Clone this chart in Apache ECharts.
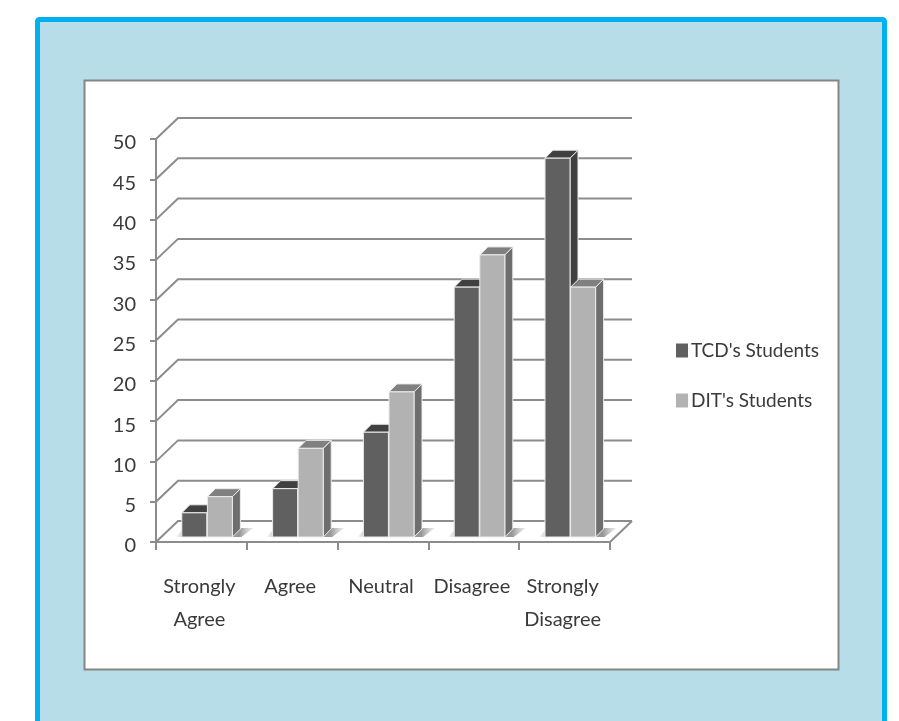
<!DOCTYPE html>
<html>
<head>
<meta charset="utf-8">
<style>
  html, body { margin: 0; padding: 0; background: #fff; }
  #chart { width: 899px; height: 721px; }
</style>
<script src="https://cdn.jsdelivr.net/npm/echarts@6/dist/echarts.min.js"></script>
</head>
<body>
<div id="chart"></div>
<script>
// Survey responses by student group
const categories = ['Strongly\nAgree', 'Agree', 'Neutral', 'Disagree', 'Strongly\nDisagree'];
const tcdStudents = [3, 6, 13, 31, 47];
const ditStudents = [5, 11, 18, 35, 31];
const yTicks = [0, 5, 10, 15, 20, 25, 30, 35, 40, 45, 50];

const FONT = 'Lato, "Liberation Sans", sans-serif';
const FONT_SIZE = 20;
const TEXT = '#3a3a3a';
const LINE = '#8c8c8c';

// Projection of the chart's depth axis onto the page
const WALL_DX = 22, WALL_DY = -21;
const BAR_SHIFT_X = 6, BAR_SHIFT_Y = -5;
const BAR_DEPTH_X = 8, BAR_DEPTH_Y = -8;
const BAR_WIDTH = 25;

const polygon = (points, fill) => ({
  type: 'polygon',
  shape: { points },
  style: { fill, stroke: '#ececec', lineWidth: 1 }
});

// Back wall gridlines, floor outline
function renderWall(params, api) {
  const cs = params.coordSys;
  const y = api.coord([0, api.value(0)])[1];
  const x0 = cs.x, x1 = cs.x + cs.width;
  const children = [{
    type: 'polyline',
    shape: { points: [[x0, y], [x0 + WALL_DX, y + WALL_DY], [x1 + WALL_DX, y + WALL_DY]] },
    style: { fill: 'none', stroke: LINE, lineWidth: 2 }
  }];
  if (api.value(0) === 0) {
    children.push({
      type: 'line',
      shape: { x1: x1, y1: y, x2: x1 + WALL_DX, y2: y + WALL_DY },
      style: { stroke: LINE, lineWidth: 2 }
    });
  }
  return { type: 'group', children };
}

// Soft shadow on the floor beneath each pair of bars
function renderShadow(params, api) {
  const base = api.coord([api.value(0), 0]);
  const cx = base[0] + BAR_SHIFT_X;
  const y = base[1] + BAR_SHIFT_Y;
  const l = cx - BAR_WIDTH - 7, r = cx + BAR_WIDTH + 4;
  return {
    type: 'polygon',
    shape: { points: [[l, y], [l + 9, y - 9], [r + 17, y - 9], [r + 5, y]] },
    style: {
      fill: {
        type: 'linear', x: 0, y: 0, x2: 1, y2: 0,
        colorStops: [
          { offset: 0, color: 'rgba(170,170,170,0)' },
          { offset: 0.12, color: 'rgba(170,170,170,0.7)' },
          { offset: 0.82, color: 'rgba(150,150,150,1)' },
          { offset: 1, color: 'rgba(190,190,190,0.25)' }
        ]
      }
    }
  };
}

// A bar with front, top and side faces; slot -1 sits left of the band centre, slot 0 right
function makeBarRenderer(slot, topColor, sideColor) {
  return function (params, api) {
    const top = api.coord([api.value(0), api.value(1)]);
    const base = api.coord([api.value(0), 0]);
    const x = top[0] + BAR_SHIFT_X + slot * (BAR_WIDTH + 0.6);
    const yT = top[1] + BAR_SHIFT_Y;
    const yB = base[1] + BAR_SHIFT_Y;
    const xR = x + BAR_WIDTH;
    const dx = BAR_DEPTH_X, dy = BAR_DEPTH_Y;
    return {
      type: 'group',
      children: [
        polygon([[xR, yT], [xR + dx, yT + dy], [xR + dx, yB + dy], [xR, yB]], sideColor),
        polygon([[x, yT], [x + dx, yT + dy], [xR + dx, yT + dy], [xR, yT]], topColor),
        polygon([[x, yT], [xR, yT], [xR, yB], [x, yB]], api.visual('color'))
      ]
    };
  };
}

const chart = echarts.init(document.getElementById('chart'), null, { renderer: 'canvas' });

chart.setOption({
  animation: false,
  backgroundColor: '#ffffff',
  textStyle: { fontFamily: FONT },
  // Framed panel behind the chart
  graphic: [
    {
      type: 'rect', z: -10, silent: true,
      shape: { x: 37.5, y: 19.5, width: 847, height: 720, r: 2 },
      style: { fill: '#b7dde8', stroke: '#00b0f0', lineWidth: 5 }
    },
    {
      type: 'rect', z: -9, silent: true,
      shape: { x: 84.5, y: 80.5, width: 754, height: 589 },
      style: { fill: '#ffffff', stroke: '#868686', lineWidth: 2 }
    }
  ],
  grid: { left: 156, top: 139, width: 454, height: 403, containLabel: false },
  xAxis: {
    type: 'category',
    data: categories,
    axisLine: { lineStyle: { color: LINE, width: 2 } },
    axisTick: { show: true, alignWithLabel: false, length: 8, lineStyle: { color: LINE, width: 2 } },
    axisLabel: {
      interval: 0, color: TEXT, fontSize: FONT_SIZE, fontFamily: FONT,
      lineHeight: 33, margin: 28, padding: [0, 4, 0, 0]
    },
    splitLine: { show: false }
  },
  yAxis: {
    type: 'value',
    min: 0, max: 50, interval: 5,
    axisLine: { show: true, lineStyle: { color: LINE, width: 2 } },
    axisTick: { show: true, length: 6, lineStyle: { color: LINE, width: 2 } },
    axisLabel: {
      color: TEXT, fontSize: FONT_SIZE, fontFamily: FONT, margin: 20,
      verticalAlign: 'top', lineHeight: 8
    },
    splitLine: { show: false }
  },
  legend: {
    data: ["TCD's Students", "DIT's Students"],
    orient: 'vertical',
    left: 671, top: 336,
    itemWidth: 12, itemHeight: 14, itemGap: 31,
    icon: 'rect',
    textStyle: { color: TEXT, fontSize: 19, fontFamily: FONT, padding: [0, 0, 0, -2] }
  },
  series: [
    {
      type: 'custom', name: 'wall', z: 1, silent: true,
      data: yTicks.map(v => [v]),
      encode: { y: 0 },
      renderItem: renderWall
    },
    {
      type: 'custom', name: 'shadow', z: 2, silent: true,
      data: categories.map((c, i) => [i]),
      encode: { x: 0 },
      renderItem: renderShadow
    },
    {
      type: 'custom', name: "TCD's Students", z: 3,
      itemStyle: { color: '#606060' },
      data: tcdStudents.map((v, i) => [i, v]),
      encode: { x: 0, y: 1 },
      renderItem: makeBarRenderer(-1, '#404040', '#404040')
    },
    {
      type: 'custom', name: "DIT's Students", z: 4,
      itemStyle: { color: '#b2b2b2' },
      data: ditStudents.map((v, i) => [i, v]),
      encode: { x: 0, y: 1 },
      renderItem: makeBarRenderer(0, '#808080', '#6e6e6e')
    }
  ]
});
</script>
</body>
</html>
